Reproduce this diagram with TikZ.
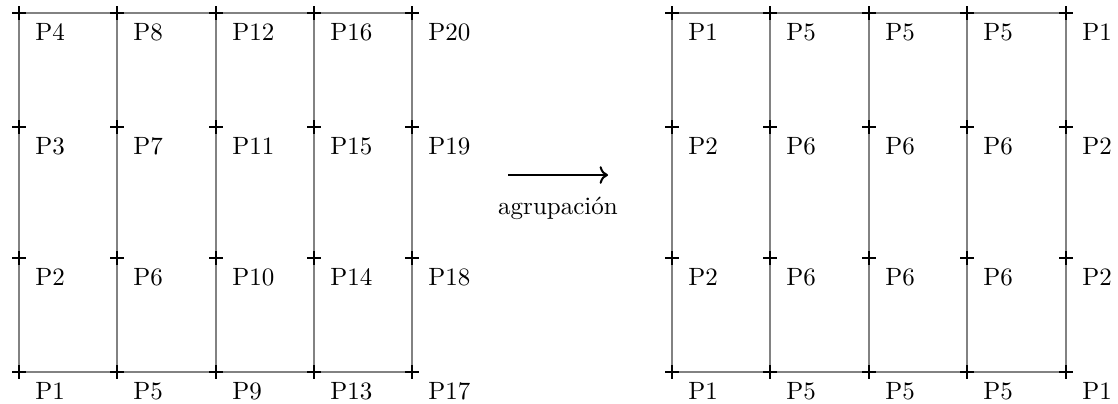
\documentclass[tikz,border=0pt]{standalone}
\usepackage{fontspec}
\usepackage{xcolor}
\usepackage{tikz}
\usetikzlibrary{arrows.meta, positioning}
\definecolor{gridgray}{RGB}{130,130,130}
\definecolor{mydark}{RGB}{0,0,0}
\tikzset{
  gridline/.style={draw=gridgray, line width=0.8pt},
  cross/.style={draw=mydark, line width=0.8pt},
  plabel/.style={anchor=north west, xshift=3pt, yshift=-0.7pt},
  arrow/.style={-To, line width=0.8pt, color=mydark}
}
\begin{document}
\begin{tikzpicture}[x=0.4pt, y=-0.4pt]
  \useasboundingbox (0,0) rectangle (1118,403);

  % Points, left and right
  \foreach \c/\x in {1/19, 2/117, 3/216, 4/314, 5/412}
    \foreach \r/\y in {1/372, 2/258, 3/127, 4/13}
      \coordinate (L-\c-\r) at (\x,\y);
  \foreach \c/\x in {1/672, 2/770, 3/869, 4/967, 5/1066}
    \foreach \r/\y in {1/372, 2/258, 3/127, 4/13}
      \coordinate (R-\c-\r) at (\x,\y);

  % Grid lines
  \draw[gridline] (L-1-4) -- (L-5-4);
  \draw[gridline] (L-1-1) -- (L-5-1);
  \draw[gridline] (R-1-4) -- (R-5-4);
  \draw[gridline] (R-1-1) -- (R-5-1);
  \foreach \c in {1,...,5} {
    \draw[gridline] (L-\c-1) -- (L-\c-4);
    \draw[gridline] (R-\c-1) -- (R-\c-4);
  }

  % Left: crosses and labels
  \foreach \c in {1,...,5}
    \foreach \r in {1,...,4} {
      \pgfmathtruncatemacro{\n}{4*(\c-1)+\r}
      \draw[cross] (L-\c-\r) ++(-7,0) -- ++(14,0) (L-\c-\r) ++(0,-7) -- ++(0,14);
      \node[plabel] (pl-\c-\r) at (L-\c-\r) {P\n};
    }

  % Right: crosses and labels after grouping
  \foreach \c/\a in {1/1, 2/5, 3/5, 4/5, 5/1}
    \foreach \r/\k in {1/0, 2/1, 3/1, 4/0} {
      \pgfmathtruncatemacro{\n}{\a+\k}
      \draw[cross] (R-\c-\r) ++(-7,0) -- ++(14,0) (R-\c-\r) ++(0,-7) -- ++(0,14);
      \node[plabel] (pr-\c-\r) at (R-\c-\r) {P\n};
    }

  % Arrow
  \coordinate (grpL) at (508,175);
  \coordinate (grpR) at (608,175);
  \draw[arrow] (grpL) -- (grpR);
  \node (grp) at (558,208) {agrupación};
\end{tikzpicture}
\end{document}
